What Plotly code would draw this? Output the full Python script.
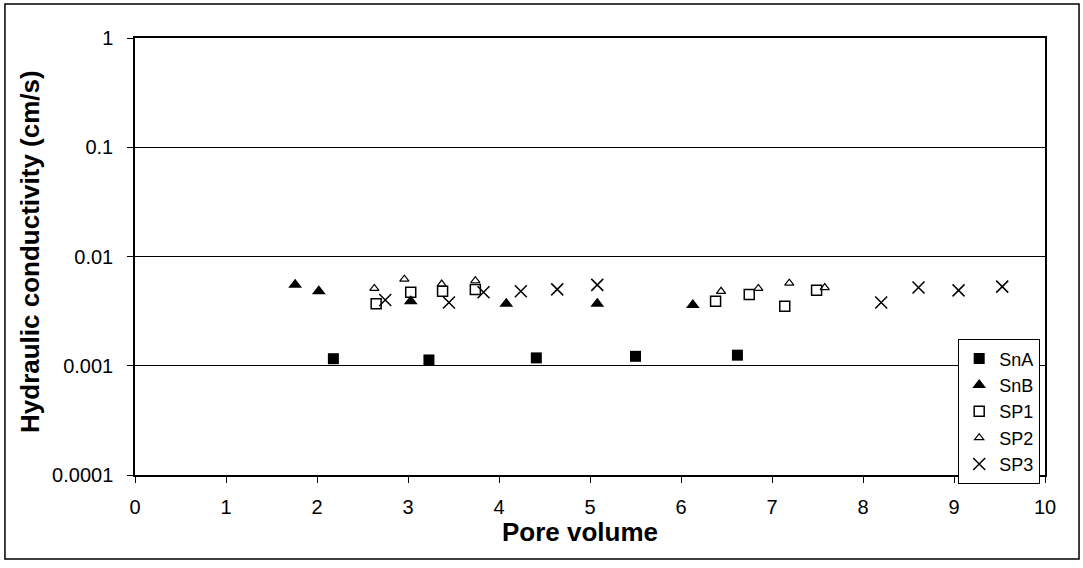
import plotly.graph_objects as go

# Pore volume (x) and hydraulic conductivity in cm/s (y) for each sample
sna_pv = [2.18, 3.23, 4.41, 5.50, 6.62]
sna_k = [0.00116, 0.00113, 0.00118, 0.00122, 0.00125]

snb_pv = [1.76, 2.02, 3.03, 4.08, 5.08, 6.13]
snb_k = [0.0055, 0.0048, 0.0039, 0.0037, 0.0037, 0.0036]

sp1_pv = [2.65, 3.03, 3.38, 3.74, 6.38, 6.75, 7.14, 7.49]
sp1_k = [0.0037, 0.0047, 0.0048, 0.0050, 0.0039, 0.0045, 0.0035, 0.0049]

sp2_pv = [2.63, 2.96, 3.37, 3.74, 6.44, 6.85, 7.19, 7.58]
sp2_k = [0.0051, 0.0062, 0.0056, 0.0060, 0.0048, 0.0051, 0.0057, 0.0052]

sp3_pv = [2.75, 3.45, 3.83, 4.24, 4.64, 5.08, 8.20, 8.61, 9.05, 9.53]
sp3_k = [0.0040, 0.0038, 0.0047, 0.0048, 0.0050, 0.0055, 0.0038, 0.0052, 0.0049, 0.0053]

y_tickvals = [1, 0.1, 0.01, 0.001, 0.0001]
y_ticktext = ["1", "0.1", "0.01", "0.001", "0.0001"]
x_tickvals = list(range(0, 11))

FONT = "Liberation Sans, Arial, sans-serif"

fig = go.Figure()

series = [
    ("SnA", sna_pv, sna_k, dict(symbol="square", size=11, color="black")),
    ("SnB", snb_pv, snb_k, dict(symbol="triangle-up", size=12, color="black")),
    ("SP1", sp1_pv, sp1_k, dict(symbol="square-open", size=10, color="black",
                                line=dict(width=1.5, color="black"))),
    ("SP2", sp2_pv, sp2_k, dict(symbol="triangle-up-open", size=8, color="black",
                                line=dict(width=1.2, color="black"))),
    ("SP3", sp3_pv, sp3_k, dict(symbol="x-thin-open", size=12, color="black",
                                line=dict(width=1.5, color="black"))),
]
for name, xs, ys, mk in series:
    fig.add_trace(go.Scatter(x=xs, y=ys, mode="markers", name=name,
                             legendgroup=name, marker=mk))

fig.update_layout(
    width=1083, height=568,
    margin=dict(l=135, r=38, t=38, b=93, autoexpand=False),
    paper_bgcolor="white", plot_bgcolor="white",
    font=dict(family=FONT, size=20, color="black"),
    showlegend=True,
    legend=dict(
        x=0.9945, xanchor="right", y=0.311, yanchor="top",
        bgcolor="white", bordercolor="black", borderwidth=1.2,
        font=dict(family=FONT, size=18, color="black"),
        itemwidth=30, tracegroupgap=0,
    ),
)

fig.update_xaxes(
    range=[0, 10], tickvals=x_tickvals, ticks="outside", ticklen=6,
    tickwidth=1.2, tickcolor="black", showgrid=False, zeroline=False,
    showline=True, linecolor="black", linewidth=1.5, mirror=True,
    tickfont=dict(family=FONT, size=20), ticklabelstandoff=7,
)
fig.update_yaxes(
    type="log", range=[-4, 0], tickvals=y_tickvals, ticktext=y_ticktext,
    ticks="outside", ticklen=6, tickwidth=1.2, tickcolor="black",
    showgrid=True, gridcolor="black", gridwidth=1.2, zeroline=False,
    showline=True, linecolor="black", linewidth=1.5, mirror=True,
    tickfont=dict(family=FONT, size=20), ticklabelstandoff=10,
)

# Axis titles
fig.add_annotation(text="<b>Pore volume</b>", xref="paper", yref="paper",
                   x=0.489, y=-0.130, xanchor="center", yanchor="middle",
                   showarrow=False, font=dict(family=FONT, size=26, color="black"))
fig.add_annotation(text="<b>Hydraulic conductivity (cm/s)</b>", xref="paper", yref="paper",
                   x=-0.1154, y=0.5126, xanchor="center", yanchor="middle",
                   textangle=-90, showarrow=False,
                   font=dict(family=FONT, size=26, color="black"))

# Outer chart border
fig.add_shape(type="rect", xref="paper", yref="paper",
              x0=-0.1429, x1=1.0374, y0=-0.1922, y1=1.0778,
              line=dict(color="black", width=1.5), fillcolor="rgba(0,0,0,0)")

fig.write_html("out.html")
